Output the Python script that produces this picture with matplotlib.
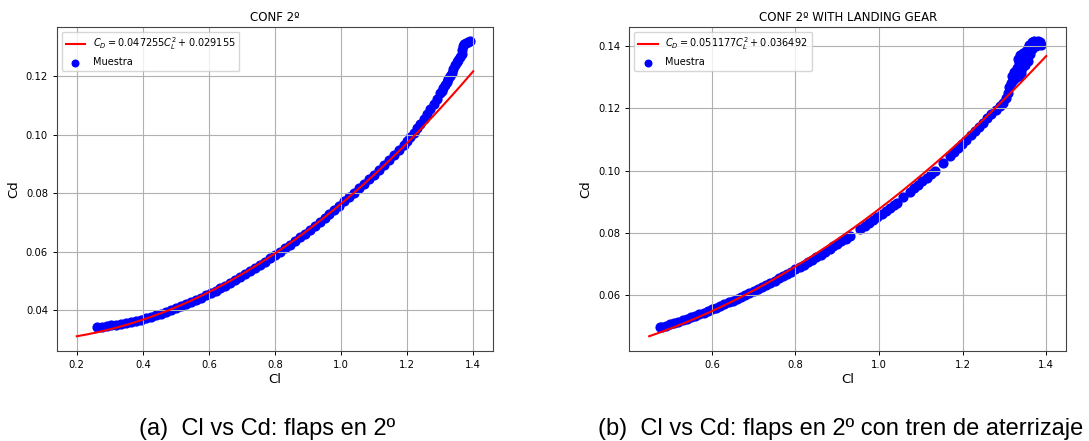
import matplotlib
matplotlib.use("Agg")
import matplotlib.pyplot as plt
import numpy as np

# coeficientes del ajuste parabolico  Cd = k*Cl^2 + cd0
k_a, cd0_a = 0.047255, 0.029155
k_b, cd0_b = 0.051177, 0.036492
cl_fit_a = (0.2, 1.4)
cl_fit_b = (0.45, 1.4)

titulo_a = "CONF 2º"
titulo_b = "CONF 2º WITH LANDING GEAR"
caption_a = "(a)  Cl vs Cd: flaps en 2º"
caption_b = "(b)  Cl vs Cd: flaps en 2º con tren de aterrizaje"

# muestras - configuracion 2
cl_a = [0.26, 0.275, 0.29, 0.305, 0.32, 0.335, 0.35, 0.365, 0.38, 0.395,
        0.41, 0.425, 0.44, 0.455, 0.47, 0.485, 0.50, 0.515, 0.53, 0.545,
        0.56, 0.575, 0.59, 0.605, 0.62, 0.635, 0.65, 0.665, 0.68, 0.695,
        0.71, 0.725, 0.74, 0.755, 0.77, 0.785, 0.80, 0.815, 0.83, 0.845,
        0.86, 0.875, 0.89, 0.905, 0.92, 0.935, 0.95, 0.965, 0.98, 0.995,
        1.01, 1.025, 1.04, 1.055, 1.07, 1.085, 1.10, 1.115, 1.13, 1.145,
        1.16, 1.175, 1.19, 1.20, 1.21, 1.22, 1.23, 1.24, 1.25, 1.26,
        1.27, 1.28, 1.29, 1.30, 1.305, 1.31, 1.315, 1.32, 1.325, 1.33,
        1.335, 1.34, 1.345, 1.35, 1.355, 1.36, 1.365, 1.367, 1.369, 1.372,
        1.378, 1.385, 1.39]
cd_a = [0.0341, 0.0343, 0.0345, 0.0348, 0.0350, 0.0353, 0.0356, 0.0359, 0.0363, 0.0367,
        0.0372, 0.0377, 0.0382, 0.0387, 0.0394, 0.0400, 0.0407, 0.0413, 0.0420, 0.0427,
        0.0435, 0.0442, 0.0450, 0.0458, 0.0466, 0.0475, 0.0484, 0.0494, 0.0503, 0.0513,
        0.0523, 0.0533, 0.0544, 0.0555, 0.0566, 0.0577, 0.0588, 0.0600, 0.0612, 0.0624,
        0.0636, 0.0649, 0.0662, 0.0675, 0.0688, 0.0702, 0.0715, 0.0729, 0.0743, 0.0757,
        0.0772, 0.0787, 0.0802, 0.0818, 0.0833, 0.0848, 0.0864, 0.0880, 0.0896, 0.0913,
        0.0930, 0.0947, 0.0966, 0.0979, 0.0993, 0.1008, 0.1022, 0.1038, 0.1054, 0.1070,
        0.1088, 0.1106, 0.1124, 0.1142, 0.1150, 0.1160, 0.1170, 0.1180, 0.1190, 0.1200,
        0.1212, 0.1226, 0.1240, 0.1250, 0.1258, 0.1266, 0.1276, 0.1290, 0.1303, 0.1310,
        0.1315, 0.1318, 0.1320]

# muestras - configuracion 2 con tren
cl_b = [0.476, 0.48, 0.49, 0.50, 0.51, 0.52, 0.53, 0.54, 0.55, 0.56, 0.57,
        0.58, 0.59, 0.60, 0.61, 0.62, 0.63, 0.64, 0.65, 0.66, 0.67,
        0.68, 0.69, 0.70, 0.71, 0.72, 0.73, 0.74, 0.75, 0.76, 0.77,
        0.78, 0.79, 0.80, 0.81, 0.82, 0.83, 0.84, 0.85, 0.86, 0.87,
        0.882, 0.89, 0.90, 0.91, 0.92, 0.93, 0.954,
        0.966, 0.976, 0.986, 0.996, 1.006, 1.016, 1.026, 1.036, 1.042, 1.058,
        1.074, 1.084, 1.094, 1.104, 1.114, 1.124, 1.134, 1.153,
        1.169, 1.179, 1.189, 1.199, 1.209, 1.219, 1.229, 1.239, 1.249, 1.259,
        1.269, 1.279, 1.289, 1.297, 1.303, 1.308, 1.312, 1.316, 1.320, 1.326,
        1.318, 1.322, 1.330, 1.336, 1.332, 1.338, 1.345, 1.352, 1.350, 1.356,
        1.360, 1.365, 1.372, 1.380, 1.386, 1.388, 1.375, 1.366, 1.362, 1.357,
        1.350, 1.343, 1.340, 1.334, 1.328]
cd_b = [0.0498, 0.0499, 0.0503, 0.0507, 0.0511, 0.0515, 0.0520, 0.0525, 0.0530, 0.0534, 0.0539,
        0.0544, 0.0550, 0.0555, 0.0560, 0.0566, 0.0571, 0.0578, 0.0583, 0.0589, 0.0595,
        0.0601, 0.0607, 0.0613, 0.0620, 0.0626, 0.0634, 0.0640, 0.0647, 0.0654, 0.0661,
        0.0668, 0.0676, 0.0683, 0.0691, 0.0698, 0.0706, 0.0714, 0.0722, 0.0730, 0.0739,
        0.0749, 0.0757, 0.0765, 0.0774, 0.0782, 0.0791, 0.0813,
        0.0823, 0.0832, 0.0841, 0.0851, 0.0861, 0.0870, 0.0881, 0.0891, 0.0897, 0.0916,
        0.0932, 0.0943, 0.0954, 0.0966, 0.0977, 0.0989, 0.1000, 0.1025,
        0.1047, 0.1060, 0.1073, 0.1087, 0.1100, 0.1113, 0.1127, 0.1141, 0.1154, 0.1168,
        0.1181, 0.1194, 0.1207, 0.1218, 0.1232, 0.1250, 0.1268, 0.1283, 0.1290, 0.1296,
        0.1305, 0.1318, 0.1330, 0.1345, 0.1360, 0.1372, 0.1378, 0.1385, 0.1362, 0.1395,
        0.1405, 0.1412, 0.1415, 0.1415, 0.1412, 0.1405, 0.1400, 0.1392, 0.1375, 0.1352,
        0.1340, 0.1330, 0.1315, 0.1305, 0.1310]

plt.rcParams["font.family"] = "DejaVu Sans"
fig = plt.figure(figsize=(10.89, 4.41), dpi=100)


def panel(rect, k, cd0, rango, cl, cd, titulo):
    ax = fig.add_axes(rect)
    x = np.linspace(rango[0], rango[1], 200)
    ax.plot(x, k * x**2 + cd0, color="red", lw=1.5,
            label=r"$C_D = %gC_L^2 + %g$" % (k, cd0))
    ax.scatter(cl, cd, s=40, color="blue", label="Muestra")
    ax.grid(True, color="#b0b0b0", lw=0.8)
    ax.set_title(titulo, fontsize=8.5, pad=4)
    ax.set_xlabel("Cl", fontsize=9.5, labelpad=2)
    ax.set_ylabel("Cd", fontsize=9.5)
    ax.tick_params(labelsize=7.2, length=3, width=0.7)
    for s in ax.spines.values():
        s.set_color("#444444")
    ax.legend(loc="upper left", fontsize=7, markerscale=0.75)
    return ax


panel([0.0523, 0.2041, 0.4004, 0.7354], k_a, cd0_a, cl_fit_a, cl_a, cd_a, titulo_a)
panel([0.5779, 0.2041, 0.4010, 0.7354], k_b, cd0_b, cl_fit_b, cl_b, cd_b, titulo_b)

fig.text(0.245, 0.027, caption_a, fontsize=17, family="Liberation Sans",
         ha="center", va="center")
fig.text(0.772, 0.027, caption_b, fontsize=17, family="Liberation Sans",
         ha="center", va="center")

fig.savefig("out.png", dpi=100)
